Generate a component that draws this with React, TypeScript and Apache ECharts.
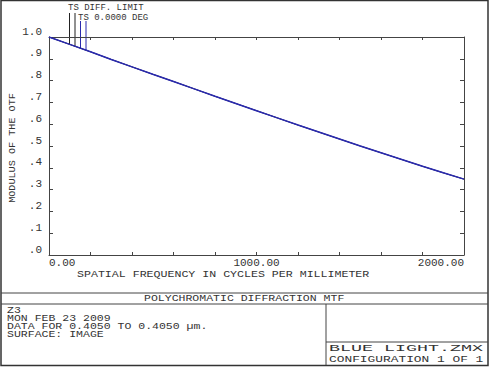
import React, { useEffect, useRef } from 'react';
import * as echarts from 'echarts';

// Spatial frequency (cycles/mm)
const freq = [0, 100, 200, 300, 400, 500, 600, 700, 800, 900, 1000, 1100, 1200, 1300, 1400, 1500, 1600, 1700, 1800, 1900, 2000];
// Diffraction limit (T and S coincide)
const diffLimit = [1.0, 0.966, 0.932, 0.897, 0.863, 0.829, 0.796, 0.762, 0.728, 0.695, 0.662, 0.629, 0.596, 0.564, 0.532, 0.5, 0.469, 0.438, 0.407, 0.377, 0.348];
// 0.0000 DEG field (T and S coincide)
const field0 = [1.0, 0.966, 0.932, 0.897, 0.863, 0.829, 0.796, 0.762, 0.728, 0.695, 0.662, 0.629, 0.596, 0.564, 0.532, 0.5, 0.469, 0.438, 0.407, 0.377, 0.348];

const xLabelValues = [0, 1000, 2000];
const xLabelTexts = ['0.00', '1000.00', '2000.00'];
const yLabelTexts = ['.0', '.1', '.2', '.3', '.4', '.5', '.6', '.7', '.8', '.9', '1.0'];

const infoLines = ['Z3', 'MON FEB 23 2009', 'DATA FOR 0.4050 TO 0.4050 \u00b5m.', 'SURFACE: IMAGE'];
const chartTitle = 'POLYCHROMATIC DIFFRACTION MTF';
const fileName = 'BLUE LIGHT.ZMX';
const configText = 'CONFIGURATION 1 OF 1';
const xTitle = 'SPATIAL FREQUENCY IN CYCLES PER MILLIMETER';
const yTitle = 'MODULUS OF THE OTF';
const legendDiff = 'TS DIFF. LIMIT';
const legendField = 'TS 0.0000 DEG';

const FONT = '"Liberation Mono", "DejaVu Sans Mono", monospace';
const INK = '#333333';
const BLUE = '#2a2ab0';

function txt(text: string, x: number, y: number, size: number, scaleX: number, extra: any = {}) {
  return {
    type: 'text',
    x,
    y,
    scaleX,
    ...extra,
    style: {
      text,
      fontFamily: FONT,
      fontSize: size,
      fill: INK,
      align: 'left',
      verticalAlign: 'middle',
      ...(extra.style || {}),
    },
  };
}

function ln(x1: number, y1: number, x2: number, y2: number, stroke = '#444', lineWidth = 1) {
  return { type: 'line', shape: { x1, y1, x2, y2 }, style: { stroke, lineWidth } };
}

export default function App() {
  const ref = useRef<HTMLDivElement>(null);

  useEffect(() => {
    if (!ref.current) return;
    const chart = echarts.init(ref.current, undefined, { renderer: 'svg' });

    const axisLineStyle = { color: '#444', width: 1 };
    const xFmt = (v: number) => {
      const i = xLabelValues.indexOf(Math.round(v));
      return i >= 0 ? xLabelTexts[i] : '';
    };
    const yFmt = (v: number) => yLabelTexts[Math.round(v * 10)] ?? '';

    const option: any = {
      animation: false,
      backgroundColor: '#ffffff',
      grid: { left: 49, top: 37, right: 26, bottom: 112, containLabel: false },
      xAxis: [
        {
          type: 'value',
          position: 'bottom',
          min: 0,
          max: 2000,
          interval: 200,
          axisLine: { show: true, lineStyle: axisLineStyle },
          axisTick: { show: true, inside: true, length: 3, lineStyle: axisLineStyle },
          splitLine: { show: false },
          axisLabel: {
            formatter: xFmt,
            fontFamily: FONT,
            fontSize: 11,
            color: INK,
            margin: 2,
            alignMinLabel: 'left',
            alignMaxLabel: 'right',
            showMinLabel: true,
            showMaxLabel: true,
          },
        },
        {
          type: 'value',
          position: 'top',
          min: 0,
          max: 2000,
          interval: 200,
          axisLine: { show: true, onZero: false, lineStyle: axisLineStyle },
          axisTick: { show: true, inside: true, length: 3, lineStyle: axisLineStyle },
          splitLine: { show: false },
          axisLabel: { show: false },
        },
      ],
      yAxis: [
        {
          type: 'value',
          position: 'left',
          min: 0,
          max: 1,
          interval: 0.1,
          axisLine: { show: true, lineStyle: axisLineStyle },
          axisTick: { show: true, inside: true, length: 4, lineStyle: axisLineStyle },
          splitLine: { show: false },
          axisLabel: {
            formatter: yFmt,
            fontFamily: FONT,
            fontSize: 11,
            color: INK,
            margin: 7,
            verticalAlign: 'bottom',
            lineHeight: 11,
            showMinLabel: true,
            showMaxLabel: true,
          },
        },
        {
          type: 'value',
          position: 'right',
          min: 0,
          max: 1,
          interval: 0.1,
          axisLine: { show: true, onZero: false, lineStyle: axisLineStyle },
          axisTick: { show: true, inside: true, length: 4, lineStyle: axisLineStyle },
          splitLine: { show: false },
          axisLabel: { show: false },
        },
      ],
      series: [
        {
          name: 'TS DIFF. LIMIT',
          type: 'line',
          xAxisIndex: 0,
          yAxisIndex: 0,
          data: freq.map((f, i) => [f, diffLimit[i]]),
          showSymbol: false,
          smooth: false,
          lineStyle: { color: '#000', width: 1 },
          z: 2,
        },
        {
          name: 'TS 0.0000 DEG',
          type: 'line',
          xAxisIndex: 0,
          yAxisIndex: 0,
          data: freq.map((f, i) => [f, field0[i]]),
          showSymbol: false,
          smooth: false,
          lineStyle: { color: BLUE, width: 1.5 },
          z: 3,
        },
      ],
      graphic: [
        // outer frame and title block
        { type: 'rect', shape: { x: 1, y: 0.5, width: 487, height: 365 }, style: { fill: 'none', stroke: '#333', lineWidth: 1.5 } },
        ln(1, 293, 488, 293, '#444', 1),
        ln(1, 304, 488, 304, '#444', 1),
        ln(326, 304, 326, 365, '#444', 1),
        ln(326, 342, 488, 342, '#444', 1),
        txt(chartTitle, 144, 298.5, 9, 1.28),
        ...infoLines.map((t, i) => txt(t, 7, 310 + i * 8, 9, 1.28)),
        txt(fileName, 329, 348.5, 9, 2.04),
        txt(configText, 329, 359.5, 9, 1.43),
        // axis titles
        txt(xTitle, 77, 274, 9, 1.29),
        {
          type: 'text',
          x: 13,
          y: 148,
          rotation: Math.PI / 2,
          scaleX: 1.13,
          style: {
            text: yTitle,
            fontFamily: FONT,
            fontSize: 9,
            fill: INK,
            align: 'center',
            verticalAlign: 'middle',
          },
        },
        // legend
        txt(legendDiff, 68, 8, 9, 1.0),
        txt(legendField, 78, 17.5, 9, 1.0),
        ln(69.5, 13, 69.5, 44.5, '#222', 1),
        ln(75, 13, 75, 46.3, '#222', 1),
        ln(80.5, 21, 80.5, 48.3, BLUE, 1),
        ln(86, 21, 86, 50.2, BLUE, 1),
      ],
    };

    chart.setOption(option);
    return () => chart.dispose();
  }, []);

  return (
    <div
      ref={ref}
      style={{ position: 'fixed', left: 0, top: 0, width: 490, height: 367, background: '#fff' }}
    />
  );
}
